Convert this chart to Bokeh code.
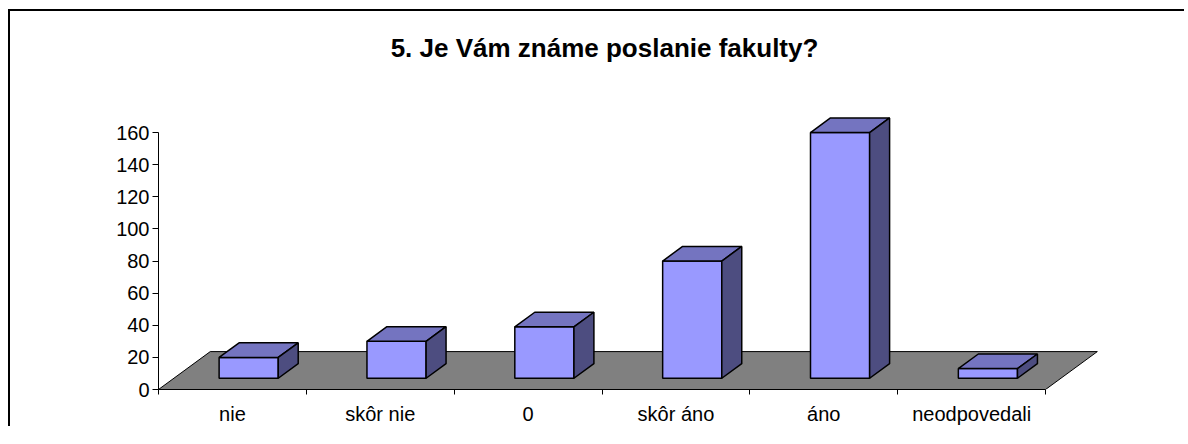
from bokeh.plotting import figure
from bokeh.models import FixedTicker, Range1d, Label
from bokeh.embed import file_html
from bokeh.resources import INLINE

# ---- data ----
categories = ["nie", "skôr nie", "0", "skôr áno", "áno", "neodpovedali"]
values = [13, 23, 32, 73, 153, 6]
y_ticks = [0, 20, 40, 60, 80, 100, 120, 140, 160]
title_text = "5. Je Vám známe poslanie fakulty?"

FONT = "Liberation Sans"

# ---- 3D geometry (in data units of the scales) ----
n = len(categories)
FLOOR_DX, FLOOR_DY = 0.35, 23.6      # depth of floor
FRONT_DX, FRONT_DY = 0.11, 7.0       # bar front plane inside floor
BAR_DX, BAR_DY = 0.135, 9.1          # bar depth
BAR_W = 0.40

p = figure(width=1176, height=417, output_backend="svg", toolbar_location=None, tools="",
           title=None,
           x_range=Range1d(0, 6.5), y_range=Range1d(0, 235.4),
           min_border_left=148, min_border_right=67, min_border_top=0, min_border_bottom=39,
           background_fill_color="white", border_fill_color="white",
           styles={"margin-left": "8px", "margin-top": "9px",
                   "border-left": "2px solid black", "border-top": "2px solid black"})
p.grid.visible = False
p.outline_line_color = None

# floor
p.patch([0, n, n + FLOOR_DX, FLOOR_DX], [0, 0, FLOOR_DY, FLOOR_DY],
        fill_color="#808080", line_color="black", line_width=1)

front_xs, front_ys, top_xs, top_ys, side_xs, side_ys = [], [], [], [], [], []
for i, v in enumerate(values):
    x0 = i + 0.5 + FRONT_DX - BAR_W / 2
    x1 = x0 + BAR_W
    y0 = FRONT_DY
    y1 = FRONT_DY + v
    front_xs.append([x0, x1, x1, x0]); front_ys.append([y0, y0, y1, y1])
    top_xs.append([x0, x1, x1 + BAR_DX, x0 + BAR_DX]); top_ys.append([y1, y1, y1 + BAR_DY, y1 + BAR_DY])
    side_xs.append([x1, x1 + BAR_DX, x1 + BAR_DX, x1]); side_ys.append([y0, y0 + BAR_DY, y1 + BAR_DY, y1])

p.patches(front_xs, front_ys, fill_color="#9999FF", line_color="black", line_width=1.5)
p.patches(top_xs, top_ys, fill_color="#7474C0", line_color="black", line_width=1.5)
p.patches(side_xs, side_ys, fill_color="#4D4D80", line_color="black", line_width=1.5)

# x axis
centers = [i + 0.5 for i in range(n)]
xa = p.xaxis[0]
xa.ticker = FixedTicker(ticks=centers, minor_ticks=list(range(n + 1)))
xa.major_label_overrides = {c: lab for c, lab in zip(centers, categories)}
xa.bounds = (0, n)
xa.major_tick_out = 0
xa.major_tick_in = 0
xa.minor_tick_out = 5
xa.minor_tick_in = 0
xa.minor_tick_line_color = "black"
xa.axis_line_color = "black"
xa.major_label_standoff = 8
xa.major_label_text_font = FONT
xa.major_label_text_font_size = "20px"
xa.major_label_text_color = "black"

# y axis
ya = p.yaxis[0]
ya.ticker = FixedTicker(ticks=y_ticks)
ya.bounds = (0, 160)
ya.major_tick_out = 6
ya.major_tick_in = 0
ya.minor_tick_line_color = None
ya.axis_line_color = "black"
ya.major_tick_line_color = "black"
ya.major_label_standoff = 3
ya.major_label_text_font = FONT
ya.major_label_text_font_size = "20px"
ya.major_label_text_color = "black"

# title (placed in screen units relative to the plot frame)
title = Label(x=446, y=342, x_units="screen", y_units="screen", text=title_text,
              text_align="center", text_baseline="alphabetic",
              text_font=FONT, text_font_size="26px", text_font_style="bold",
              text_color="black")
p.add_layout(title)

open("out.html", "w").write(file_html(p, INLINE))
